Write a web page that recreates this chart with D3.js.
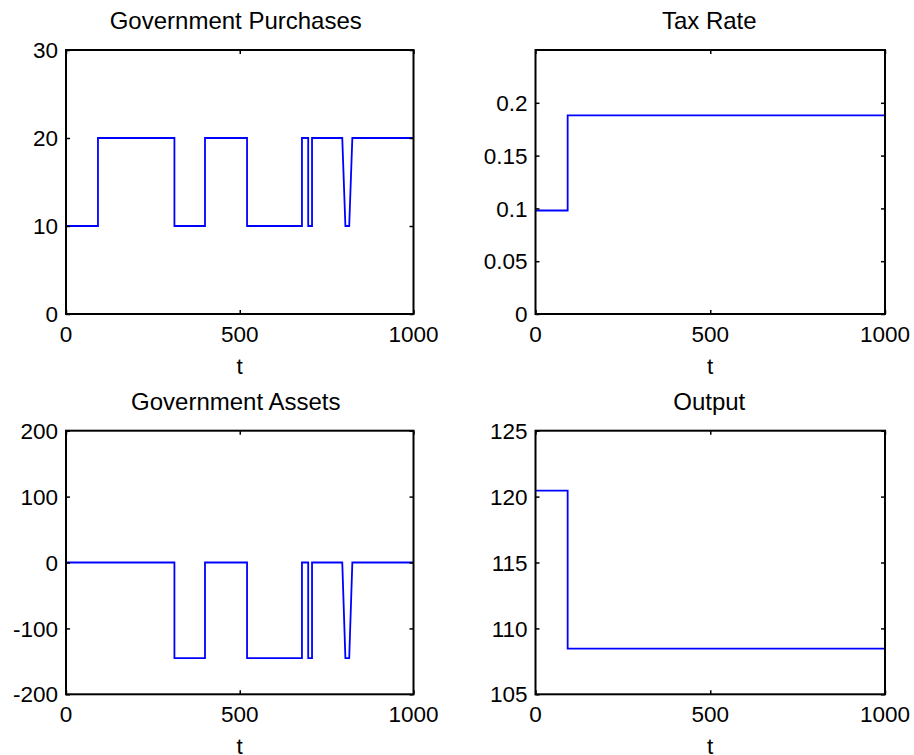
<!DOCTYPE html>
<html>
<head>
<meta charset="utf-8">
<script src="https://cdn.jsdelivr.net/npm/d3@7"></script>
<style>
  body { margin: 0; background: #fff; }
  svg { display: block; }
  text { font-family: "Liberation Sans", Arial, sans-serif; fill: #000; }
</style>
</head>
<body>
<div id="chart"></div>
<script>
// time breakpoints and step values
const tGov = [0, 92, 92, 312, 312, 400, 400, 521, 521, 679, 679, 697, 697, 708, 708, 795, 804, 815, 824, 1000];
const govPurchases = [10, 10, 20, 20, 10, 10, 20, 20, 10, 10, 20, 20, 10, 10, 20, 20, 10, 10, 20, 20];

const tAssets = [0, 312, 312, 400, 400, 521, 521, 679, 679, 697, 697, 708, 708, 795, 804, 815, 824, 1000];
const govAssets = [0, 0, -145, -145, 0, 0, -145, -145, 0, 0, -145, -145, 0, 0, -145, -145, 0, 0];

const tTax = [0, 92, 92, 1000];
const taxRate = [0.098, 0.098, 0.188, 0.188];

const tOut = [0, 92, 92, 1000];
const output = [120.46, 120.46, 108.46, 108.46];

const xTicks = [0, 500, 1000];
const govTicks = [0, 10, 20, 30];
const taxTicks = [0, 0.05, 0.1, 0.15, 0.2];
const assetTicks = [-200, -100, 0, 100, 200];
const outTicks = [105, 110, 115, 120, 125];

const W = 914, H = 755;
const tickFont = 22.5;
const titleFont = 24;

const svg = d3.select("#chart").append("svg")
  .attr("width", W)
  .attr("height", H);

const panels = [
  { title: "Government Purchases", t: tGov, v: govPurchases, yDomain: [0, 30], yTicks: govTicks,
    box: [66, 413.5, 50, 314], titleShift: -4 },
  { title: "Tax Rate", t: tTax, v: taxRate, yDomain: [0, 0.25], yTicks: taxTicks,
    box: [535.5, 885, 50, 314], titleShift: -1 },
  { title: "Government Assets", t: tAssets, v: govAssets, yDomain: [-200, 200], yTicks: assetTicks,
    box: [66, 413.5, 430.7, 694.3], titleShift: -4 },
  { title: "Output", t: tOut, v: output, yDomain: [105, 125], yTicks: outTicks,
    box: [535.5, 885, 430.7, 694.3], titleShift: -1 }
];

panels.forEach(drawPanel);

function drawPanel(p) {
  const [left, right, top, bottom] = p.box;
  const x = d3.scaleLinear().domain([0, 1000]).range([left, right]);
  const y = d3.scaleLinear().domain(p.yDomain).range([bottom, top]);
  const g = svg.append("g");

  // data line
  const pts = p.t.map((t, i) => [t, p.v[i]]);
  g.append("path")
    .datum(pts)
    .attr("fill", "none")
    .attr("stroke", "#0000ff")
    .attr("stroke-width", 1.8)
    .attr("d", d3.line().x(d => x(d[0])).y(d => y(d[1])));

  // inward ticks on all four sides, MATLAB box style
  const tl = 4;
  g.append("g").attr("transform", `translate(0,${bottom})`)
    .call(d3.axisBottom(x).tickValues(xTicks).tickSize(-tl).tickFormat(""))
    .call(a => a.select(".domain").remove());
  g.append("g").attr("transform", `translate(0,${top})`)
    .call(d3.axisTop(x).tickValues(xTicks).tickSize(-tl).tickFormat(""))
    .call(a => a.select(".domain").remove());
  g.append("g").attr("transform", `translate(${left},0)`)
    .call(d3.axisLeft(y).tickValues(p.yTicks).tickSize(-tl).tickFormat(""))
    .call(a => a.select(".domain").remove());
  g.append("g").attr("transform", `translate(${right},0)`)
    .call(d3.axisRight(y).tickValues(p.yTicks).tickSize(-tl).tickFormat(""))
    .call(a => a.select(".domain").remove());
  g.selectAll(".tick line").attr("stroke", "#000").attr("stroke-width", 1.5);

  g.append("rect")
    .attr("x", left).attr("y", top)
    .attr("width", right - left).attr("height", bottom - top)
    .attr("fill", "none")
    .attr("stroke", "#000")
    .attr("stroke-width", 2);

  // tick labels
  g.selectAll(".xlab").data(xTicks).enter().append("text")
    .attr("x", d => x(d))
    .attr("y", bottom + 28)
    .attr("text-anchor", "middle")
    .style("font-size", tickFont + "px")
    .text(d => d);

  g.selectAll(".ylab").data(p.yTicks).enter().append("text")
    .attr("x", left - 8)
    .attr("y", d => y(d))
    .attr("dy", "0.36em")
    .attr("text-anchor", "end")
    .style("font-size", tickFont + "px")
    .text(d => String(d));

  g.append("text")
    .attr("x", (left + right) / 2)
    .attr("y", bottom + 60)
    .attr("text-anchor", "middle")
    .style("font-size", tickFont + "px")
    .text("t");

  g.append("text")
    .attr("x", (left + right) / 2 + p.titleShift)
    .attr("y", top - 21)
    .attr("text-anchor", "middle")
    .style("font-size", titleFont + "px")
    .text(p.title);
}
</script>
</body>
</html>
